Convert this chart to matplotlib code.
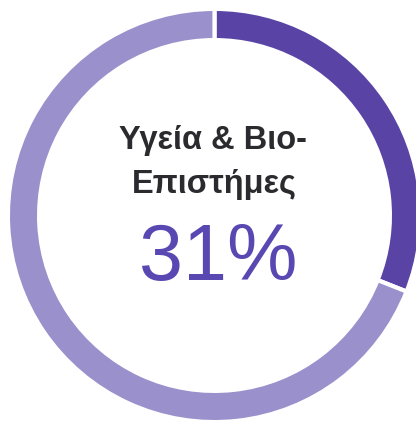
import matplotlib
matplotlib.use("Agg")
import matplotlib.pyplot as plt

labels = ["Υγεία & Βιο-Επιστήμες", "Άλλα"]
values = [31, 69]
colors = ["#5944a6", "#9a91cc"]
title_lines = ["Υγεία & Βιο-", "Επιστήμες"]
pct_text = "31%"

W, H = 416, 421
fig = plt.figure(figsize=(W / 100, H / 100), dpi=100)
ax = fig.add_axes([0, 0, 1, 1])

cx, cy = 214.5, H - 215.5
R, ring = 204.5, 27
lw = 3.0
pad = lw * 100 / 72 / 2
ax.pie(values, colors=colors, startangle=90, counterclock=False,
       center=(cx, cy), radius=R + pad,
       wedgeprops=dict(width=ring + 2 * pad, edgecolor="white", linewidth=lw),
       frame=True)
ax.set_xlim(0, W)
ax.set_ylim(0, H)
ax.set_aspect("auto")
ax.axis("off")

font = ["Liberation Sans", "DejaVu Sans"]
ax.text(213, H - 149, title_lines[0], ha="center", va="baseline", fontsize=23.5,
        fontweight="bold", color="#2b2b2f", family=font)
ax.text(214, H - 193, title_lines[1], ha="center", va="baseline", fontsize=23.5,
        fontweight="bold", color="#2b2b2f", family=font)
ax.text(218, H - 280, pct_text, ha="center", va="baseline", fontsize=57,
        color="#5a48b2", family=font)

fig.savefig("out.png", dpi=100)
